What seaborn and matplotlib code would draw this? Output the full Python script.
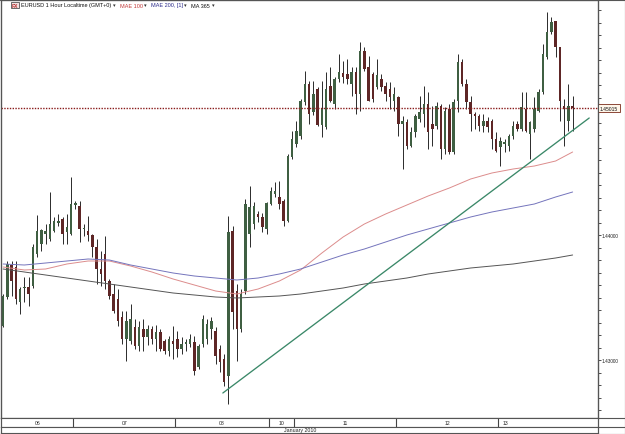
import numpy as np
import pandas as pd
import matplotlib
matplotlib.use("Agg")
import matplotlib.pyplot as plt
from matplotlib.lines import Line2D
import seaborn as sns

# ---------------- data ----------------
opens = [1.43272, 1.43504, 1.43760, 1.43744, 1.43464, 1.43576, 1.43584, 1.43592, 1.43848, 1.43928,
         1.44008, 1.43968, 1.44032, 1.44096, 1.44128, 1.44024, 1.44008, 1.44240, 1.44232, 1.44048,
         1.44032, 1.44000, 1.43904, 1.43728, 1.43848, 1.43632, 1.43528, 1.43488, 1.43344, 1.43168,
         1.43152, 1.43264, 1.43112, 1.43248, 1.43184, 1.43248, 1.43168, 1.43224, 1.43152, 1.43072,
         1.43152, 1.43168, 1.43088, 1.43128, 1.43128, 1.43144, 1.42944, 1.43128, 1.43168, 1.43248,
         1.43232, 1.43088, 1.43008, 1.42872, 1.44032, 1.43552, 1.43248, 1.43552, 1.44008, 1.44088,
         1.44168, 1.44144, 1.44048, 1.44248, 1.44328, 1.44304, 1.44272, 1.44112, 1.44624, 1.44728,
         1.44792, 1.45064, 1.45208, 1.44984, 1.45168, 1.44880, 1.44864, 1.45192, 1.45048, 1.45248,
         1.45296, 1.45288, 1.45208, 1.45304, 1.45128, 1.45472, 1.45344, 1.45288, 1.45184, 1.45248,
         1.45192, 1.45168, 1.45072, 1.45104, 1.44888, 1.44904, 1.44712, 1.44824, 1.44928, 1.44968,
         1.45048, 1.44888, 1.44872, 1.45032, 1.44688, 1.45008, 1.44664, 1.45072, 1.45384, 1.45208,
         1.45064, 1.44968, 1.44952, 1.44872, 1.44912, 1.44912, 1.44768, 1.44704, 1.44728, 1.44712,
         1.44792, 1.44888, 1.44848, 1.45008, 1.44808, 1.44848, 1.44992, 1.45144, 1.45424, 1.45624,
         1.45712, 1.45504, 1.45032, 1.44912, 1.45032]
closes = [1.43512, 1.43768, 1.43632, 1.43488, 1.43568, 1.43584, 1.43528, 1.43904, 1.44032, 1.44040,
          1.44032, 1.44088, 1.44112, 1.44112, 1.44008, 1.44064, 1.44248, 1.44256, 1.44048, 1.44056,
          1.44000, 1.43904, 1.43728, 1.43688, 1.43632, 1.43512, 1.43392, 1.43312, 1.43168, 1.43312,
          1.43328, 1.43112, 1.43264, 1.43184, 1.43248, 1.43168, 1.43224, 1.43088, 1.43072, 1.43168,
          1.43128, 1.43088, 1.43128, 1.43144, 1.43168, 1.42912, 1.43112, 1.43328, 1.43288, 1.43312,
          1.43032, 1.42984, 1.42824, 1.44024, 1.43384, 1.43248, 1.43528, 1.44248, 1.44224, 1.44232,
          1.44144, 1.44064, 1.44256, 1.44352, 1.44352, 1.44248, 1.44112, 1.44632, 1.44768, 1.44832,
          1.45072, 1.45208, 1.44968, 1.45128, 1.44880, 1.45008, 1.45168, 1.45072, 1.45248, 1.45304,
          1.45264, 1.45248, 1.45304, 1.45128, 1.45472, 1.45328, 1.45072, 1.45088, 1.45280, 1.45184,
          1.45128, 1.45104, 1.45128, 1.44888, 1.44912, 1.44712, 1.44824, 1.44952, 1.44984, 1.45048,
          1.44824, 1.44848, 1.45032, 1.44688, 1.44992, 1.44664, 1.45064, 1.45384, 1.45208, 1.45064,
          1.44968, 1.44952, 1.44872, 1.44912, 1.44864, 1.44768, 1.44672, 1.44752, 1.44744, 1.44792,
          1.44872, 1.44848, 1.45024, 1.44832, 1.44904, 1.45008, 1.45144, 1.45448, 1.45624, 1.45704,
          1.45504, 1.45072, 1.45008, 1.45032, 1.45015]
highs = [1.43528, 1.43792, 1.43792, 1.43792, 1.43584, 1.43664, 1.43664, 1.43928, 1.44160, 1.44048,
         1.44088, 1.44344, 1.44144, 1.44168, 1.44144, 1.44168, 1.44464, 1.44272, 1.44272, 1.44088,
         1.44152, 1.44008, 1.43968, 1.43872, 1.43992, 1.43648, 1.43608, 1.43568, 1.43392, 1.43392,
         1.43448, 1.43328, 1.43312, 1.43328, 1.43280, 1.43272, 1.43280, 1.43248, 1.43168, 1.43192,
         1.43272, 1.43232, 1.43184, 1.43168, 1.43208, 1.43192, 1.43128, 1.43360, 1.43328, 1.43344,
         1.43264, 1.43120, 1.43048, 1.44152, 1.44072, 1.43608, 1.43568, 1.44288, 1.44392, 1.44264,
         1.44192, 1.44176, 1.44264, 1.44384, 1.44424, 1.44432, 1.44288, 1.44648, 1.44832, 1.44912,
         1.45088, 1.45312, 1.45232, 1.45232, 1.45184, 1.45232, 1.45304, 1.45344, 1.45264, 1.45448,
         1.45392, 1.45408, 1.45344, 1.45344, 1.45544, 1.45504, 1.45432, 1.45304, 1.45408, 1.45288,
         1.45224, 1.45224, 1.45184, 1.45112, 1.44952, 1.44928, 1.44864, 1.44968, 1.45112, 1.45192,
         1.45144, 1.45032, 1.45064, 1.45048, 1.45024, 1.45048, 1.45088, 1.45448, 1.45408, 1.45248,
         1.45112, 1.44984, 1.44968, 1.44968, 1.44944, 1.44928, 1.44824, 1.44784, 1.44768, 1.44808,
         1.44912, 1.44912, 1.45144, 1.45144, 1.44912, 1.45104, 1.45168, 1.45528, 1.45784, 1.45744,
         1.45712, 1.45504, 1.45088, 1.45208, 1.45112]
lows = [1.43264, 1.43488, 1.43512, 1.43448, 1.43368, 1.43464, 1.43432, 1.43576, 1.43824, 1.43872,
        1.43928, 1.43952, 1.44024, 1.44072, 1.43928, 1.43928, 1.44000, 1.44208, 1.43944, 1.43992,
        1.43952, 1.43824, 1.43608, 1.43592, 1.43568, 1.43488, 1.43376, 1.43272, 1.43128, 1.42992,
        1.43128, 1.43088, 1.43072, 1.43072, 1.43120, 1.43128, 1.43072, 1.43072, 1.43048, 1.43032,
        1.43008, 1.43024, 1.43048, 1.43072, 1.43104, 1.42880, 1.42928, 1.43104, 1.43128, 1.43168,
        1.42968, 1.42904, 1.42792, 1.42648, 1.43248, 1.42992, 1.43224, 1.43528, 1.43904, 1.44048,
        1.44104, 1.44024, 1.44008, 1.44240, 1.44304, 1.44208, 1.44072, 1.44104, 1.44608, 1.44704,
        1.44768, 1.45040, 1.44888, 1.44960, 1.44872, 1.44784, 1.44848, 1.45064, 1.45008, 1.45224,
        1.45216, 1.45208, 1.45112, 1.44968, 1.44992, 1.45312, 1.45072, 1.45064, 1.45168, 1.45152,
        1.45072, 1.45008, 1.44992, 1.44792, 1.44528, 1.44688, 1.44704, 1.44784, 1.44904, 1.44864,
        1.44688, 1.44712, 1.44848, 1.44608, 1.44648, 1.44648, 1.44648, 1.44984, 1.45192, 1.45008,
        1.44832, 1.44848, 1.44832, 1.44824, 1.44824, 1.44688, 1.44664, 1.44552, 1.44664, 1.44672,
        1.44768, 1.44832, 1.44832, 1.44824, 1.44608, 1.44824, 1.44984, 1.45128, 1.45408, 1.45608,
        1.45424, 1.44912, 1.44712, 1.44832, 1.44832]

# moving averages, read every 5 candles
ma_idx = [0, 5, 10, 15, 20, 25, 30, 35, 40, 45, 50, 55, 60, 65, 70, 75, 80, 85, 90, 95,
          100, 105, 110, 115, 120, 125, 130, 134]
ma100 = [1.43744, 1.43720, 1.43728, 1.43768, 1.43792, 1.43792, 1.43752, 1.43704, 1.43648, 1.43600,
         1.43552, 1.43528, 1.43568, 1.43632, 1.43720, 1.43856, 1.43984, 1.44088, 1.44168, 1.44240,
         1.44312, 1.44376, 1.44448, 1.44496, 1.44528, 1.44552, 1.44592, 1.44664]
ma200 = [1.43768, 1.43760, 1.43776, 1.43792, 1.43808, 1.43800, 1.43760, 1.43728, 1.43696, 1.43672,
         1.43656, 1.43640, 1.43656, 1.43688, 1.43728, 1.43784, 1.43840, 1.43888, 1.43944, 1.44000,
         1.44048, 1.44096, 1.44144, 1.44184, 1.44216, 1.44248, 1.44304, 1.44344]
ma365 = [1.43728, 1.43704, 1.43680, 1.43656, 1.43632, 1.43608, 1.43584, 1.43560, 1.43536, 1.43520,
         1.43504, 1.43496, 1.43504, 1.43512, 1.43528, 1.43552, 1.43576, 1.43608, 1.43632, 1.43656,
         1.43688, 1.43712, 1.43736, 1.43752, 1.43768, 1.43792, 1.43816, 1.43840]

trend_idx = [51.7, 137.9]
trend_val = [1.42736, 1.44936]

last_price = 1.45015
price_ticks = [1.43, 1.44]

day_labels = ["06", "07", "08", "10", "11", "12", "13"]
day_starts = [0, 17, 41, 63, 69, 93, 117]
month_label = "January 2010"

title_parts = [("EURUSD 1 Hour Localtime (GMT+0)", "#111111"), ("MAE 100", "#c23a3a"),
               ("MAE 200, [1]", "#2a2a8a"), ("MA 365", "#111111")]

# ---------------- drawing ----------------
sns.set_theme(style="white")
plt.rcParams['font.family'] = ['Liberation Sans', 'DejaVu Sans']

W, H = 625, 435
fig = plt.figure(figsize=(W / 100, H / 100), dpi=100)
fig.patch.set_facecolor("white")

XMIN = -0.5
XMAX = XMIN + 597 / 4.25
ax = fig.add_axes([1 / W, 16 / H, 597 / W, 418 / H])
ax.set_facecolor("white")

o = np.array(opens); c = np.array(closes); hi = np.array(highs); lo = np.array(lows)
idx = np.arange(len(o))
up = c >= o
top = np.maximum(hi, np.maximum(o, c))
bot = np.minimum(lo, np.minimum(o, c))

ax.vlines(idx, bot, top, color="#2a2a2a", lw=0.7, zorder=2)
bb = np.minimum(o, c)
bh = np.maximum(np.abs(c - o), 0.00003)
ax.bar(idx[up], bh[up], bottom=bb[up], width=0.55, color="#3f5f42", linewidth=0, zorder=3)
ax.bar(idx[~up], bh[~up], bottom=bb[~up], width=0.55, color="#5e2626", linewidth=0, zorder=3)

ma_df = pd.DataFrame({
    "idx": ma_idx * 3,
    "val": ma100 + ma200 + ma365,
    "ma": ["MAE 100"] * len(ma_idx) + ["MAE 200"] * len(ma_idx) + ["MA 365"] * len(ma_idx),
})
sns.lineplot(data=ma_df, x="idx", y="val", hue="ma",
             palette={"MAE 100": "#dc8c8c", "MAE 200": "#7474bc", "MA 365": "#555555"},
             linewidth=0.7, legend=False, ax=ax, zorder=4)
sns.lineplot(x=trend_idx, y=trend_val, color="#3a8868", linewidth=0.95, ax=ax, zorder=5)
ax.axhline(last_price, color="#8a1c1c", linestyle=(0, (1, 1)), linewidth=1.0, zorder=5)

ax.set_xlim(XMIN, XMAX)
ax.set_ylim(1.42536, 1.4588)
ax.set_xlabel(""); ax.set_ylabel("")
ax.set_xticks([])
ax.yaxis.tick_right()
ax.set_yticks(price_ticks)
ax.set_yticklabels([f"{v:.5f}" for v in price_ticks])
ax.set_yticks(np.arange(1.426, 1.4585, 0.001), minor=True)
ax.tick_params(axis="y", which="both", direction="out", length=2, width=0.6,
               color="#333333", labelsize=3.4, pad=0.8, labelcolor="#222222")
for s in ax.spines.values():
    s.set_color("#555555"); s.set_linewidth(0.9)

ax.text(1.003, last_price, f"{last_price:.5f}", transform=ax.get_yaxis_transform(),
        va="center", ha="left", fontsize=3.6, color="#111111", zorder=10, clip_on=False,
        bbox=dict(boxstyle="square,pad=0.35", fc="#fff6ea", ec="#7a2a1a", lw=0.6))

# title row
ty = 1 - 6 / H
fig.text(12 / W, ty, "FX", fontsize=3.6, color="#b03030", va="center", ha="left",
         fontweight="bold",
         bbox=dict(boxstyle="square,pad=0.1", fc="#f3e0e0", ec="#333333", lw=0.5))
xs = [21, 120, 151, 191]
arrows = [113, 144, 184, 212]
for (txt, col), xx, ar in zip(title_parts, xs, arrows):
    fig.text(xx / W, ty, txt, fontsize=4.0, color=col, va="center", ha="left")
    fig.text(ar / W, ty, "\u25be", fontsize=3.8, color="#333333", va="center", ha="left",
             family=["DejaVu Sans"])

# day band
band = fig.add_axes([1 / W, 7 / H, 597 / W, 9 / H])
band.set_xlim(XMIN, XMAX); band.set_ylim(0, 1)
band.set_xticks([]); band.set_yticks([])
for s in band.spines.values():
    s.set_color("#555555"); s.set_linewidth(0.8)
ends = day_starts[1:] + [None]
for lab, st, en in zip(day_labels, day_starts, ends):
    if st > 0:
        band.axvline(st - 0.5, color="#444444", lw=0.8)
    if en is None:
        band.text(st + 0.6, 0.5, lab, fontsize=3.7, ha="left", va="center", color="#222222")
    else:
        band.text((st + en - 1) / 2, 0.5, lab, fontsize=3.7, ha="center", va="center",
                  color="#222222")

mband = fig.add_axes([1 / W, 1 / H, 597 / W, 6 / H])
mband.set_xlim(XMIN, XMAX); mband.set_ylim(0, 1)
mband.set_xticks([]); mband.set_yticks([])
for s in mband.spines.values():
    s.set_color("#555555"); s.set_linewidth(0.8)
mband.text(69.9, 0.5, month_label, fontsize=3.8, ha="center", va="center", color="#222222")

# outer frame and right-hand band lines
for (x0, y0, x1, y1) in [(0, 0.5, W, 0.5), (0, H - 0.5, W, H - 0.5), (0.5, 0, 0.5, H),
                         (W - 0.5, 0, W - 0.5, H), (598, 0, 598, H),
                         (598, 16, W, 16), (598, 7, W, 7)]:
    fig.add_artist(Line2D([x0 / W, x1 / W], [y0 / H, y1 / H], color="#555555", lw=0.8,
                          transform=fig.transFigure))

fig.savefig("out.png", dpi=100, facecolor="white")
